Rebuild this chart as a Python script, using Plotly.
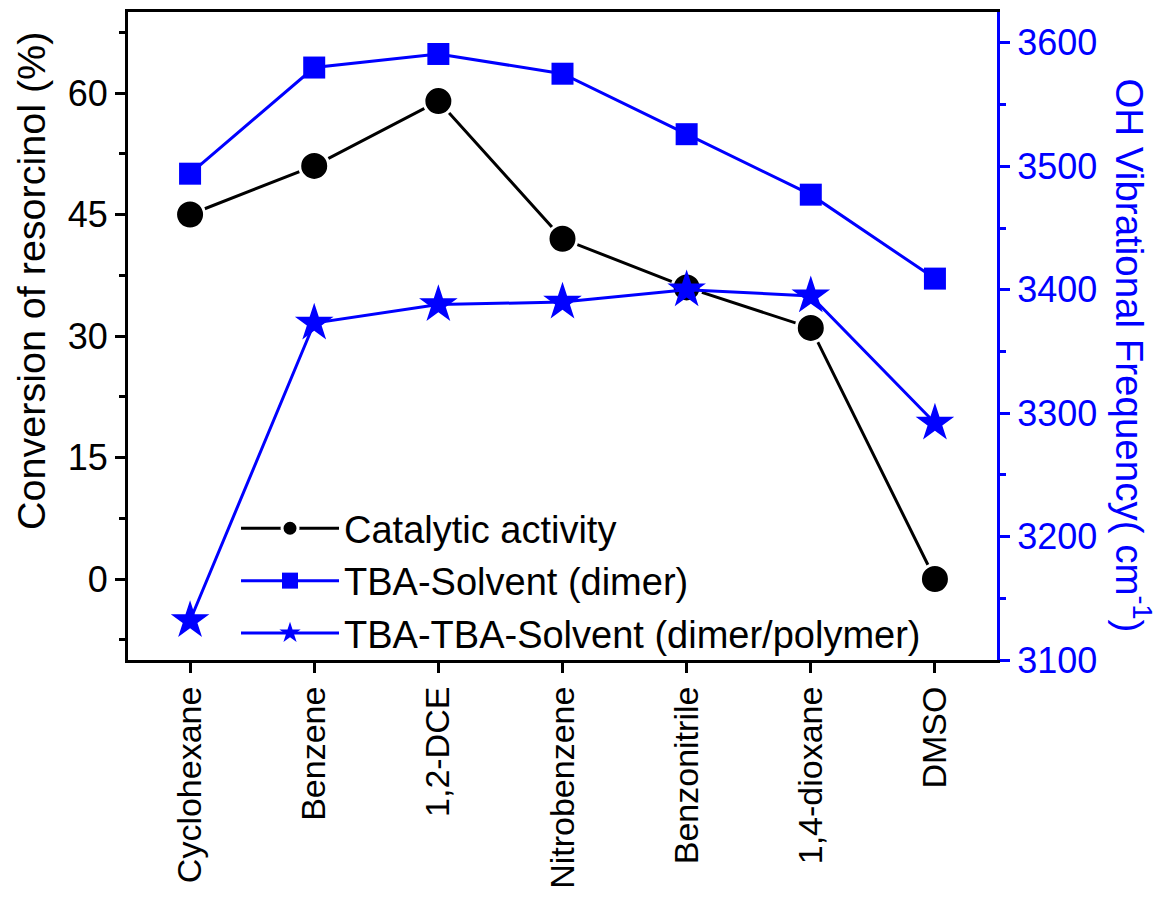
import plotly.graph_objects as go

solvents = ["Cyclohexane", "Benzene", "1,2-DCE", "Nitrobenzene", "Benzonitrile", "1,4-dioxane", "DMSO"]
conversion = [45, 51, 59, 42, 36, 31, 0]
dimer_freq = [3494, 3580, 3591, 3575, 3526, 3477, 3409]
polymer_freq = [3132, 3373, 3388, 3390, 3400, 3395, 3292]

FONT = "Liberation Sans, Arial, sans-serif"
BLUE = "#0000FF"

fig = go.Figure()
fig.add_trace(go.Scatter(
    x=solvents, y=conversion, name="Catalytic activity", mode="lines+markers",
    line=dict(color="black", width=3),
    marker=dict(symbol="circle", size=29, color="black", line=dict(color="white", width=3)),
    yaxis="y"))
fig.add_trace(go.Scatter(
    x=solvents, y=dimer_freq, name="TBA-Solvent (dimer)", mode="lines+markers",
    line=dict(color=BLUE, width=3),
    marker=dict(symbol="square", size=22, color=BLUE),
    yaxis="y2"))
fig.add_trace(go.Scatter(
    x=solvents, y=polymer_freq, name="TBA-TBA-Solvent (dimer/polymer)", mode="lines+markers",
    line=dict(color=BLUE, width=3),
    marker=dict(symbol="star", size=29, color=BLUE),
    yaxis="y2"))

fig.update_layout(
    width=1157, height=900,
    margin=dict(l=128, r=160, t=12, b=240, autoexpand=False),
    paper_bgcolor="white", plot_bgcolor="white",
    font=dict(family=FONT, size=36, color="black"),
    showlegend=True,
    legend=dict(x=0.1243, y=0.2515, xanchor="left", yanchor="top",
                bgcolor="rgba(0,0,0,0)", font=dict(size=38, family=FONT),
                tracegroupgap=0, itemwidth=98),
    xaxis=dict(type="category", range=[-0.5, 6.5], showgrid=False, zeroline=False,
               showline=True, linecolor="black", linewidth=3, mirror=True,
               ticks="outside", ticklen=10, tickwidth=3, tickcolor="black",
               tickangle=-90, automargin=False,
               tickfont=dict(size=34, family=FONT)),
    yaxis=dict(range=[-10, 70], tick0=0, dtick=15, showgrid=False, zeroline=False,
               showline=True, linecolor="black", linewidth=3, automargin=False,
               ticks="outside", ticklen=10, tickwidth=3, tickcolor="black",
               tickfont=dict(size=36, family=FONT),
               minor=dict(dtick=7.5, tick0=0, ticks="outside", ticklen=6, tickwidth=3, tickcolor="black")),
    yaxis2=dict(range=[3100, 3625], tick0=3100, dtick=100, overlaying="y", side="right",
                showgrid=False, zeroline=False, automargin=False,
                showline=True, linecolor=BLUE, linewidth=3,
                ticks="outside", ticklen=10, tickwidth=3, tickcolor=BLUE,
                tickfont=dict(size=36, family=FONT, color=BLUE),
                minor=dict(dtick=50, tick0=3100, ticks="outside", ticklen=6, tickwidth=3, tickcolor=BLUE)),
    annotations=[
        dict(text="Conversion of resorcinol (%)", xref="paper", yref="paper",
             x=-0.1116, y=0.585, xanchor="center", yanchor="middle", textangle=-90,
             showarrow=False, font=dict(size=39.5, family=FONT, color="black")),
        dict(text="OH Vibrational Frequency( cm<sup>-1</sup>)", xref="paper", yref="paper",
             x=1.156, y=0.4707, xanchor="center", yanchor="middle", textangle=90,
             showarrow=False, font=dict(size=38.5, family=FONT, color=BLUE)),
    ],
)

fig.write_html("out.html")
